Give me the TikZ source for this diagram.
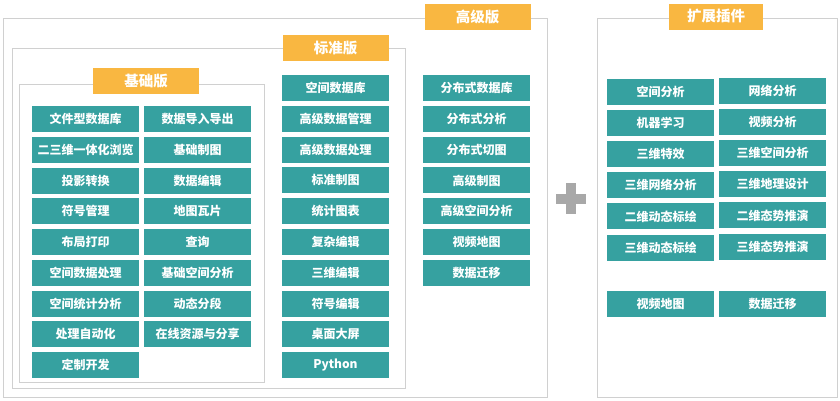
\documentclass[tikz,border=0pt]{standalone}
\usepackage{fontspec}
\usepackage{xcolor}
\usepackage{tikz}
\usetikzlibrary{positioning, calc}
\newfontfamily\cjk{Noto Sans CJK SC}

\definecolor{itemteal}{RGB}{54,161,160}
\definecolor{titleorange}{RGB}{249,183,65}
\definecolor{framegray}{RGB}{208,208,208}
\definecolor{plusgray}{RGB}{168,168,168}

\tikzset{
    frame/.style={draw=framegray, line width=1pt, fill=white},
    title/.style={fill=titleorange, text=white, minimum width=106pt, minimum height=26pt, inner sep=0pt, font=\cjk\bfseries\fontsize{14.5}{16}\selectfont},
    item/.style={fill=itemteal, text=white, minimum width=107pt, minimum height=26pt, inner sep=0pt, font=\cjk\bfseries\fontsize{12}{14}\selectfont}
}

\begin{document}
\begin{tikzpicture}[x=1pt, y=-1pt]
    \useasboundingbox (0,0) rectangle (840,400);
    % frames
    \draw[frame] (3,18) rectangle (547,397);
    \draw[frame] (12,48) rectangle (405,388);
    \draw[frame] (19,84) rectangle (264,382);
    \draw[frame] (597,18) rectangle (837,397);
    % titles
    \node[title] (gaoji) at (477.5,17) {高级版};
    \node[title] (biaozhun) at (335.5,48) {标准版};
    \node[title] (jichu) at (146,81) {基础版};
    \node[title, minimum width=94pt] (kuozhan) at (716,16.5) {扩展插件};
    % basic edition
    \foreach \i/\left/\right in {0/文件型数据库/数据导入导出, 1/二三维一体化浏览/基础制图, 2/投影转换/数据编辑,
        3/符号管理/地图瓦片, 4/布局打印/查询, 5/空间数据处理/基础空间分析, 6/空间统计分析/动态分段,
        7/处理自动化/在线资源与分享} {
        \node[item] (jcl\i) at (85.5, 119+30.75*\i) {\left};
        \node[item] (jcr\i) at (197.5, 119+30.75*\i) {\right};
    }
    \node[item] (jcl8) at (85.5, 365) {定制开发};
    % standard edition
    \foreach \i/\label in {0/空间数据库, 1/高级数据管理, 2/高级数据处理, 3/标准制图, 4/统计图表,
        5/复杂编辑, 6/三维编辑, 7/符号编辑, 8/桌面大屏, 9/Python} {
        \node[item] (bz\i) at (335.5, 88+30.8*\i) {\label};
    }
    % advanced edition
    \foreach \i/\label in {0/分布式数据库, 1/分布式分析, 2/分布式切图, 3/高级制图, 4/高级空间分析,
        5/视频地图, 6/数据迁移} {
        \node[item] (gj\i) at (476.5, 88+30.8*\i) {\label};
    }
    % plug-ins
    \foreach \i/\left/\right in {0/空间分析/网络分析, 1/机器学习/视频分析, 2/三维特效/三维空间分析,
        3/三维网络分析/三维地理设计, 4/二维动态标绘/二维态势推演, 5/三维动态标绘/三维态势推演} {
        \node[item] (kzl\i) at (660.5, 92+31.1*\i) {\left};
        \node[item] (kzr\i) at (772.5, 91+31.1*\i) {\right};
    }
    \node[item] (kzl6) at (660.5, 304) {视频地图};
    \node[item] (kzr6) at (772.5, 304) {数据迁移};
    % plus sign
    \fill[plusgray] (555.7,194) rectangle (585.7,204);
    \fill[plusgray] (565.7,183) rectangle (575.7,214);
\end{tikzpicture}
\end{document}
